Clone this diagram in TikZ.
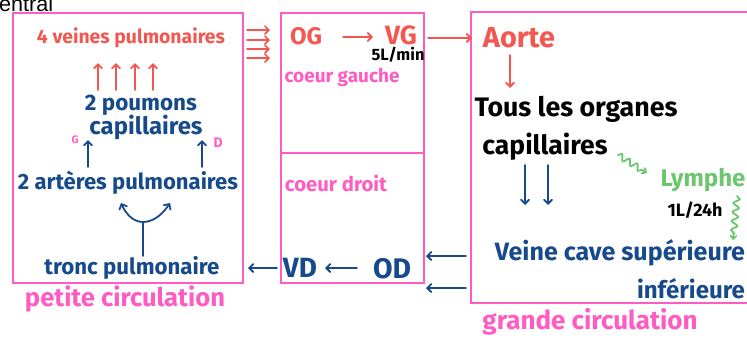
\documentclass[tikz,border=0pt]{standalone}
\usepackage{fontspec}
\setmainfont{Fira Sans}
\newfontfamily\arialf{Liberation Sans}
\usetikzlibrary{arrows.meta,decorations.pathmorphing}
\definecolor{pk}{HTML}{FF5CC3}
\definecolor{rd}{HTML}{F4574F}
\definecolor{bl}{HTML}{174A8B}
\definecolor{gr}{HTML}{6CC66F}
\newcommand{\fw}[2]{\resizebox{#1pt}{!}{#2}}
\begin{document}
\begin{tikzpicture}[x=1pt,y=-1pt,
  box/.style={draw=pk,line width=2.6pt},
  txt/.style={inner sep=0pt,font=\bfseries},
  arr/.style={-{Straight Barb[length=4pt,width=8pt,line cap=round]},line width=1.8pt,line cap=round},
  sq/.style={decorate,decoration={snake,amplitude=3pt,segment length=9pt,post length=5pt},
    -{Straight Barb[length=3pt,width=6pt,line cap=round]},line width=1.8pt,line cap=round,draw=gr}]
\useasboundingbox (0,0) rectangle (747,338);
% top-left fragment
\node[anchor=base west,inner sep=0pt,font=\arialf] (cen) at (-1,11) {\fw{54}{entral}};
% boxes
\draw[box] (13,13) rectangle (243,283);
\draw[box] (281,13) rectangle (424,283);
\coordinate (dl) at (281,153); \coordinate (dr) at (424,153);
\draw[box,line width=2pt] (dl) -- (dr);
\draw[box] (760,12) -- (471,12) -- (471,303) -- (760,303);
% left box texts
\node[txt,text=rd] (vp) at (131,38) {\fw{188}{4 veines pulmonaires}};
\node[txt,text=bl] (pm) at (141,105) {\fw{112}{2 poumons}};
\node[txt,text=bl] (cap1) at (146,127) {\fw{113}{capillaires}};
\node[txt,text=pk] (G) at (75,140) {\fw{7}{G}};
\node[txt,text=pk] (D) at (218,143) {\fw{9}{D}};
\node[txt,text=bl] (ap) at (128,183) {\fw{220}{2 artères pulmonaires}};
\node[txt,text=bl] (tp) at (132,268) {\fw{175}{tronc pulmonaire}};
\node[txt,text=pk] (pc) at (125,299) {\fw{200}{petite circulation}};
% middle box texts
\node[txt,text=rd] (OG) at (306,36) {\fw{32}{OG}};
\node[txt,text=rd] (VG) at (401,35) {\fw{32}{VG}};
\node[txt] (dm) at (398,55) {\fw{53}{5L/min}};
\node[txt,text=pk] (cg) at (342,77) {\fw{115}{coeur gauche}};
\node[txt,text=pk] (cd) at (336,183) {\fw{102}{coeur droit}};
\node[txt,text=bl] (VD) at (300,268) {\fw{34}{VD}};
\node[txt,text=bl] (OD) at (392,269) {\fw{38}{OD}};
% right box texts
\node[txt,text=rd] (ao) at (519,38) {\fw{72}{Aorte}};
\node[txt] (to) at (576,109) {\fw{203}{Tous les organes}};
\node[txt] (cap2) at (545,147) {\fw{125}{capillaires}};
\node[txt,text=gr] (ly) at (703,180) {\fw{85}{Lymphe}};
\node[txt] (dl24) at (695,210) {\fw{55}{1L/24h}};
\node[txt,text=bl] (vcs) at (620,253) {\fw{250}{Veine cave supérieure}};
\node[txt,text=bl] (inf) at (691,289) {\fw{108}{inférieure}};
\node[txt,text=pk] (gc) at (590,322) {\fw{215}{grande circulation}};
% coordinates for arrows
\foreach \i/\x in {1/98,2/116,3/135,4/153}{
  \coordinate (ru\i) at (\x,90); \coordinate (rv\i) at (\x,63);
  \draw[arr,rd] (ru\i) -- (rv\i);}
\foreach \i/\y in {1/30,2/40,3/49,4/58}{
  \coordinate (rl\i) at (247,\y); \coordinate (rr\i) at (270,\y);
  \draw[arr,rd,line width=1.6pt] (rl\i) -- (rr\i);}
\coordinate (bu1) at (88,167); \coordinate (bv1) at (88,140);
\coordinate (bu2) at (202,167); \coordinate (bv2) at (202,140);
\draw[arr,bl] (bu1) -- (bv1);
\draw[arr,bl] (bu2) -- (bv2);
% Y arrow
\coordinate (ys) at (143,256); \coordinate (yj) at (143,222);
\coordinate (yl) at (121,203); \coordinate (yr) at (170,203);
\draw[bl,line width=1.8pt,line cap=round] (ys) -- (yj);
\draw[arr,bl] (yj) .. controls (132,222) and (125,212) .. (yl);
\draw[arr,bl] (yj) .. controls (155,222) and (164,212) .. (yr);
% middle arrows
\coordinate (og1) at (343,37); \coordinate (og2) at (373,37);
\draw[arr,rd] (og1) -- (og2);
\coordinate (vg1) at (428,38); \coordinate (vg2) at (472,38);
\draw[arr,rd] (vg1) -- (vg2);
\coordinate (od1) at (357,268); \coordinate (od2) at (325,268);
\draw[arr,bl] (od1) -- (od2);
\coordinate (vd1) at (277,268); \coordinate (vd2) at (248,268);
\draw[arr,bl] (vd1) -- (vd2);
\coordinate (rb1) at (466,256); \coordinate (rb2) at (426,256);
\coordinate (rb3) at (466,288); \coordinate (rb4) at (426,288);
\draw[arr,bl] (rb1) -- (rb2);
\draw[arr,bl] (rb3) -- (rb4);
% right arrows
\coordinate (a1) at (510,55); \coordinate (a2) at (510,88);
\draw[arr,rd] (a1) -- (a2);
\coordinate (d1) at (525,165); \coordinate (d2) at (525,205);
\coordinate (d3) at (548,165); \coordinate (d4) at (548,205);
\draw[arr,bl] (d1) -- (d2);
\draw[arr,bl] (d3) -- (d4);
\coordinate (s1) at (618,155); \coordinate (s2) at (647,173);
\draw[sq] (s1) -- (s2);
\coordinate (s3) at (737,196); \coordinate (s4) at (733,240);
\draw[sq] (s3) -- (s4);
\end{tikzpicture}
\end{document}
